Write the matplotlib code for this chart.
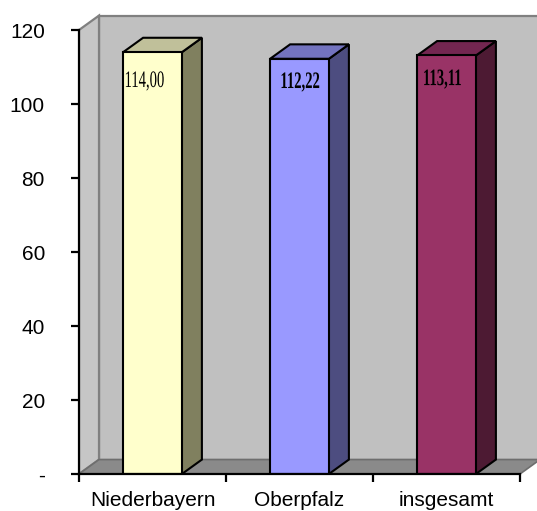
import matplotlib
matplotlib.use("Agg")
import matplotlib.pyplot as plt
from matplotlib.patches import Polygon
from matplotlib.patheffects import AbstractPathEffect
from matplotlib.transforms import Affine2D

# Data
categories = ["Niederbayern", "Oberpfalz", "insgesamt"]
values = [114.00, 112.22, 113.11]
value_labels = ["114,00", "112,22", "113,11"]
label_bold = [False, True, True]
yticks = [0, 20, 40, 60, 80, 100, 120]
ytick_labels = ["-", "20", "40", "60", "80", "100", "120"]

# Face colours: front, side, top
front_colors = ["#FFFFCC", "#9999FF", "#993366"]
side_colors = ["#80805F", "#4D4D80", "#4D1A33"]
top_colors = ["#C0C09A", "#7373BF", "#732650"]


class CondensedText(AbstractPathEffect):
    """Squeeze glyph outlines horizontally (baseline-left origin)."""

    def __init__(self, sx=0.68):
        super().__init__()
        self.sx = sx

    def draw_path(self, renderer, gc, tpath, affine, rgbFace=None):
        renderer.draw_path(gc, tpath, Affine2D().scale(self.sx, 1.0) + affine, rgbFace)


W, H, DPI = 537, 511, 100
fig = plt.figure(figsize=(W / DPI, H / DPI), dpi=DPI)
fig.patch.set_facecolor("white")

# axes placed so that x=-0.5..2.5 spans the floor front edge
ax = fig.add_axes([79 / W, (H - 474) / H, (W - 79) / W, 462.5 / H])
ax.set_xlim(-0.5, -0.5 + (W - 79) / 147.0)
ax.set_ylim(0, 125)
ax.set_facecolor("none")

n = len(categories)
dx = 20 / 147.0   # depth offset in category units
dy = 3.9          # depth offset in value units
x0, x1 = -0.5, n - 0.5
ymax = 120
half = 0.2

wall_edge = "#808080"
# back wall
ax.add_patch(Polygon([(x0 + dx, dy), (x1 + dx + 0.3, dy), (x1 + dx + 0.3, ymax + dy), (x0 + dx, ymax + dy)],
                     closed=True, facecolor="#C0C0C0", edgecolor=wall_edge, lw=1.6, zorder=1))
# left side wall
ax.add_patch(Polygon([(x0, 0), (x0, ymax), (x0 + dx, ymax + dy), (x0 + dx, dy)],
                     closed=True, facecolor="#C6C6C6", edgecolor=wall_edge, lw=1.6, zorder=1.1))
# floor
ax.add_patch(Polygon([(x0, 0), (x1, 0), (x1 + dx, dy), (x0 + dx, dy)],
                     closed=True, facecolor="#8A8A8A", edgecolor="#6E6E6E", lw=1.2, zorder=1.2))

# bars
for i, v in enumerate(values):
    l, r = i - half, i + half
    ax.add_patch(Polygon([(r, 0), (r + dx, dy), (r + dx, v + dy), (r, v)], closed=True,
                         facecolor=side_colors[i], edgecolor="black", lw=1.5, joinstyle="miter", zorder=3))
    ax.add_patch(Polygon([(l, v), (r, v), (r + dx, v + dy), (l + dx, v + dy)], closed=True,
                         facecolor=top_colors[i], edgecolor="black", lw=1.5, joinstyle="miter", zorder=3))
    ax.add_patch(Polygon([(l, 0), (r, 0), (r, v), (l, v)], closed=True,
                         facecolor=front_colors[i], edgecolor="black", lw=1.5, joinstyle="miter", zorder=4))

# value labels inside the bars
label_dx = [0.01, 0.07, 0.04]
label_dy = [9.4, 7.9, 8.0]
for i, (v, s) in enumerate(zip(values, value_labels)):
    ax.text(i - half + label_dx[i], v - label_dy[i], s, ha="left", va="baseline",
            fontsize=17, family="Liberation Serif",
            fontweight="bold" if label_bold[i] else "normal",
            color="black", zorder=6, path_effects=[CondensedText(0.62)])

# axes lines and ticks
for side in ("top", "right"):
    ax.spines[side].set_visible(False)
ax.spines["left"].set_bounds(0, ymax)
ax.spines["bottom"].set_bounds(x0, x1)
for side in ("left", "bottom"):
    ax.spines[side].set_linewidth(1.6)
    ax.spines[side].set_color("black")
    ax.spines[side].set_zorder(5)

ax.set_yticks(yticks)
ax.set_yticklabels(ytick_labels)
ax.tick_params(axis="y", direction="out", length=5.5, width=1.6, pad=19,
               labelsize=15, labelcolor="black")
for t in ax.get_yticklabels():
    t.set_family("Liberation Sans")

ax.set_xticks([x0 + k for k in range(n + 1)])
ax.set_xticklabels([])
ax.set_xticks(range(n), minor=True)
ax.set_xticklabels(categories, minor=True)
ax.tick_params(axis="x", which="minor", length=0, pad=12, labelsize=15)
ax.tick_params(axis="x", which="major", direction="out", length=6, width=1.6)
for t in ax.get_xticklabels(minor=True):
    t.set_family("Liberation Sans")

fig.savefig("out.png", dpi=DPI, facecolor="white")
